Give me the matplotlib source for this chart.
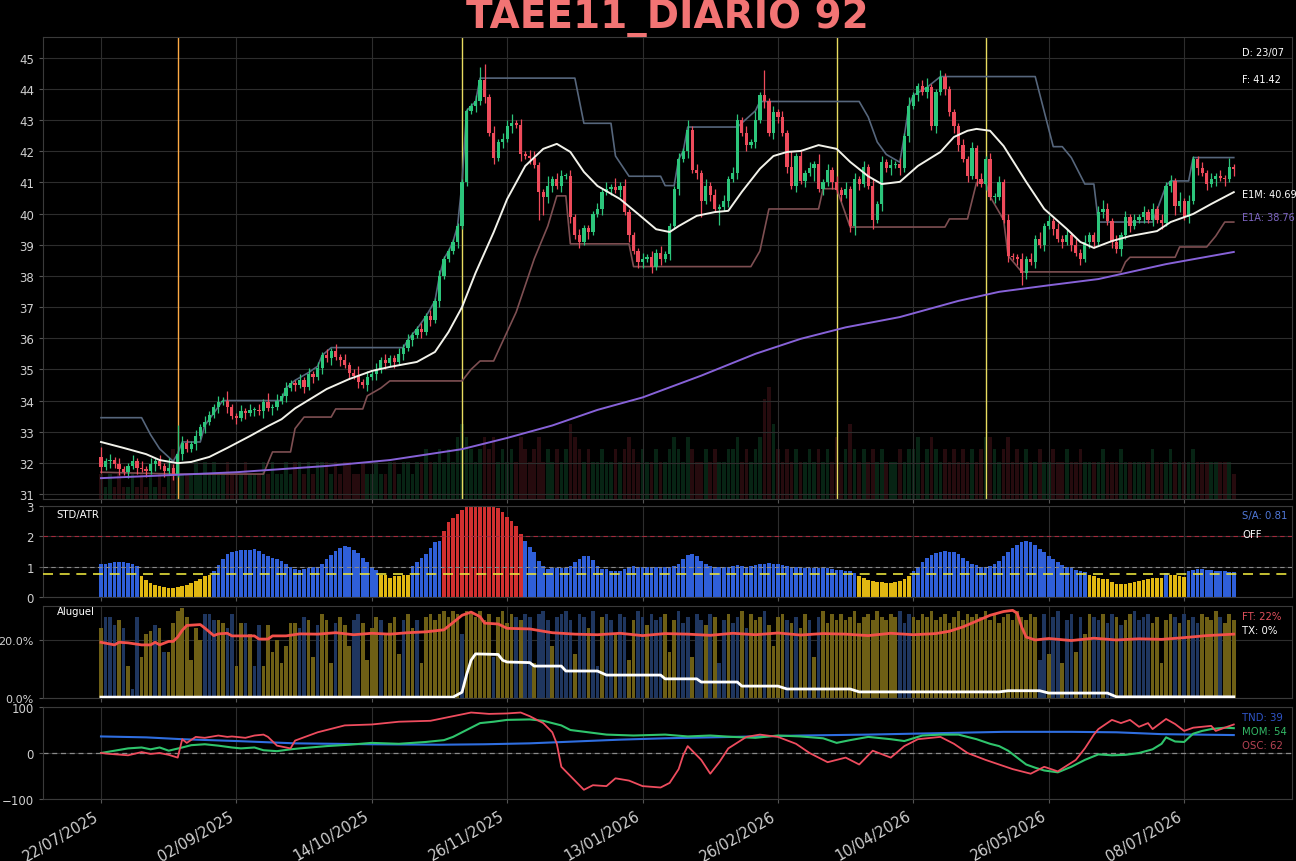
import matplotlib
matplotlib.use("Agg")
import matplotlib.pyplot as plt
import numpy as np
from matplotlib.ticker import PercentFormatter

title = "TAEE11_DIARIO 92"
date_labels = ["22/07/2025", "02/09/2025", "14/10/2025", "26/11/2025", "13/01/2026",
               "26/02/2026", "10/04/2026", "26/05/2026", "08/07/2026"]

# daily closes (bar 0 .. 251)
closes = [
    31.87, 32.05, 32.10, 31.95, 31.80, 31.70, 31.90, 32.05, 31.85, 31.80,
    31.75, 31.95, 32.05, 31.90, 31.75, 31.85, 31.65, 32.30, 32.65, 32.45,
    32.60, 32.85, 33.15, 33.30, 33.55, 33.80, 33.95, 34.00, 33.80, 33.50,
    33.45, 33.65, 33.60, 33.70, 33.70, 33.65, 33.95, 33.75, 33.80, 34.00,
    34.15, 34.40, 34.55, 34.50, 34.65, 34.45, 34.85, 34.75, 35.05, 35.45,
    35.35, 35.60, 35.40, 35.30, 35.15, 34.90, 34.80, 34.60, 34.50, 34.75,
    34.85, 35.00, 35.30, 35.20, 35.35, 35.25, 35.50, 35.70, 35.95, 36.10,
    36.30, 36.20, 36.70, 36.60, 37.20, 38.00, 38.55, 38.80, 39.10, 39.60,
    41.00, 43.30, 43.45, 43.60, 44.30, 43.75, 42.60, 41.80, 42.30, 42.40,
    42.80, 42.90, 42.85, 41.90, 41.85, 41.80, 41.55, 40.70, 40.55, 40.90,
    41.10, 40.90, 41.20, 41.20, 39.90, 39.30, 39.10, 39.55, 39.40, 40.00,
    40.15, 40.70, 40.80, 40.85, 40.75, 40.90, 40.05, 39.30, 38.80, 38.45,
    38.55, 38.60, 38.30, 38.75, 38.55, 38.70, 39.60, 40.80, 41.75, 42.00,
    42.70, 41.40, 41.30, 40.40, 40.90, 40.60, 40.15, 40.20, 40.40, 41.10,
    41.30, 43.00, 42.60, 42.20, 42.30, 43.00, 43.80, 43.60, 42.60, 43.25,
    43.10, 42.60, 41.50, 40.90, 41.85, 41.05, 41.30, 41.45, 41.60, 40.80,
    41.00, 41.40, 41.00, 40.75, 40.60, 40.80, 39.60, 41.10, 40.95, 41.50,
    40.90, 39.80, 40.30, 41.65, 41.45, 41.55, 41.60, 41.45, 42.50, 43.45,
    43.80, 44.10, 43.90, 44.05, 42.80, 43.90, 44.40, 44.00, 43.25, 42.80,
    42.20, 41.75, 41.20, 42.10, 41.10, 40.95, 41.75, 40.55, 40.55, 41.00,
    39.80, 38.65, 38.60, 38.55, 38.10, 38.55, 38.45, 39.20, 39.00, 39.60,
    39.75, 39.50, 39.20, 39.10, 39.30, 39.00, 38.75, 38.55, 39.10, 39.30,
    39.10, 40.05, 40.15, 39.75, 39.10, 38.85, 39.30, 39.90, 39.60, 39.80,
    39.90, 40.05, 39.80, 40.15, 39.80, 39.70, 40.90, 41.05, 40.25, 40.40,
    39.90, 40.40, 41.75, 41.45, 41.30, 40.95, 41.10, 41.20, 41.15, 41.10,
    41.50, 41.42,
]
first_open = 32.20
# wick lengths above / below the body, in tenths of a real
wick_up = ("3121211212" "1212131921" "1212112131" "1212121312" "1211212121"
           "2121211312" "1212112121" "1212121111" "1112451212" "2312122113"
           "1221212111" "2121312111" "2121211121" "3121212121" "2212131812"
           "1215121213" "1212121212" "1212121213" "1123112111" "1212121212"
           "1211212121" "2121212121" "1232121212" "1212121213" "1211212121" "31")
wick_dn = ("2121212121" "2121212121" "1212112121" "2121212121" "1212121212"
           "1212121212" "1212121212" "1212121112" "1112121212" "1212121962"
           "2121212121" "1212121212" "2121212121" "2125121512" "1212121212"
           "2121212141" "2121212321" "1312121212" "1212121212" "2121212121"
           "1212421212" "1212121212" "2121212121" "1212121232" "1212121212" "12")

volume = [
    2, 1, 2, 1, 2, 1, 1, 2, 1, 2, 1, 2, 1, 2, 1, 3, 4, 3, 2, 2,
    2, 3, 2, 3, 2, 3, 2, 2, 3, 2, 2, 2, 3, 2, 2, 2, 3, 2, 3, 2,
    2, 3, 2, 3, 3, 2, 3, 2, 3, 3, 3, 2, 3, 2, 3, 3, 2, 2, 3, 2,
    2, 3, 2, 2, 3, 3, 2, 3, 3, 2, 3, 3, 4, 3, 3, 4, 3, 4, 3, 5,
    6, 5, 4, 3, 4, 5, 4, 5, 3, 4, 3, 4, 3, 5, 4, 3, 4, 5, 3, 4,
    3, 4, 3, 4, 6, 5, 4, 3, 4, 3, 3, 4, 3, 3, 4, 3, 4, 5, 4, 3,
    4, 3, 3, 4, 3, 3, 4, 5, 4, 3, 5, 4, 3, 3, 4, 3, 4, 3, 3, 4,
    4, 5, 3, 4, 3, 4, 5, 8, 9, 6, 4, 3, 4, 3, 4, 3, 3, 4, 3, 4,
    3, 4, 3, 5, 3, 4, 6, 4, 3, 4, 3, 4, 3, 4, 3, 3, 3, 4, 3, 4,
    4, 5, 3, 4, 5, 4, 3, 4, 3, 4, 3, 4, 3, 4, 3, 4, 5, 5, 4, 3,
    4, 5, 3, 4, 3, 4, 3, 3, 4, 3, 3, 4, 3, 3, 4, 3, 3, 4, 3, 3,
    3, 3, 4, 3, 3, 3, 4, 3, 3, 3, 3, 3, 3, 4, 3, 3, 3, 4, 3, 3,
    3, 3, 4, 3, 3, 3, 3, 3, 3, 3, 3, 2,
]

# channel / average lines: (bar, price) points
upper_bar = [0, 9, 11, 13, 16, 17, 18, 22, 23, 25, 27, 40, 41, 43, 46, 48, 49, 51, 67, 68, 70, 72,
             74, 75, 76, 77, 78, 79, 80, 81, 82, 83, 84, 105, 107, 113, 114, 117, 124, 125, 127,
             128, 129, 130, 141, 145, 146, 168, 170, 172, 174, 177, 178, 179, 180, 183, 186, 207,
             211, 213, 215, 218, 220, 221, 233, 236, 237, 241, 242, 251]
upper_val = [33.45, 33.45, 32.9, 32.45, 32.05, 32.3, 32.67, 32.67, 33.2, 33.6, 34.0, 34.0, 34.4,
             34.65, 34.9, 35.1, 35.45, 35.7, 35.7, 35.95, 36.3, 36.7, 37.2, 38.0, 38.55, 38.8,
             39.1, 39.6, 41.0, 43.3, 43.45, 43.6, 44.35, 44.35, 42.9, 42.9, 41.85, 41.2, 41.2,
             40.9, 40.9, 41.75, 42.0, 42.78, 42.78, 43.3, 43.6, 43.6, 43.1, 42.3, 41.9, 41.65,
             42.5, 43.45, 43.8, 44.05, 44.4, 44.4, 42.15, 42.15, 41.8, 40.95, 40.95, 39.73,
             39.73, 40.9, 41.05, 41.05, 41.8, 41.8]
lower_bar = [0, 17, 36, 37, 38, 42, 43, 45, 51, 52, 58, 59, 62, 64, 80, 82, 84, 87, 92, 96, 99,
             101, 103, 104, 117, 118, 144, 146, 148, 159, 160, 163, 166, 187, 188, 192, 194, 196,
             197, 200, 201, 204, 226, 227, 228, 238, 239, 245, 247, 249, 251]
lower_val = [31.7, 31.64, 31.64, 32.0, 32.35, 32.35, 33.1, 33.47, 33.47, 33.73, 33.73, 34.15,
             34.4, 34.63, 34.63, 35.0, 35.27, 35.27, 36.84, 38.55, 39.6, 40.57, 40.57, 39.03,
             39.03, 38.3, 38.3, 38.8, 40.15, 40.15, 40.8, 40.8, 39.57, 39.57, 39.83, 39.83, 41.0,
             41.0, 40.55, 39.8, 38.65, 38.13, 38.13, 38.45, 38.6, 38.6, 38.93, 38.93, 39.28,
             39.73, 39.73]
e1m_bar = [0, 5, 10, 13, 17, 20, 24, 28, 33, 37, 40, 43, 50, 55, 60, 64, 70, 74, 77, 80, 83, 87,
           90, 94, 98, 101, 104, 107, 110, 115, 119, 123, 126, 128, 132, 136, 139, 142, 146, 149,
           152, 155, 159, 163, 166, 170, 173, 177, 181, 186, 189, 192, 194, 197, 200, 205, 209,
           214, 217, 220, 224, 228, 234, 237, 242, 246, 251]
e1m_val = [32.67, 32.48, 32.28, 32.09, 31.99, 32.03, 32.19, 32.48, 32.86, 33.18, 33.4, 33.75,
           34.37, 34.69, 34.95, 35.08, 35.24, 35.56, 36.2, 37.0, 38.1, 39.4, 40.47, 41.53, 42.08,
           42.24, 41.98, 41.34, 40.89, 40.47, 39.99, 39.5, 39.41, 39.6, 39.93, 40.05, 40.09,
           40.7, 41.44, 41.85, 41.98, 42.01, 42.2, 42.08, 41.66, 41.2, 40.95, 41.02, 41.53,
           41.98, 42.46, 42.66, 42.72, 42.66, 42.17, 41.02, 40.15, 39.51, 39.09, 38.9, 39.12,
           39.28, 39.44, 39.73, 39.99, 40.31, 40.69]
e1a_bar = [0, 30, 50, 64, 80, 90, 100, 110, 120, 133, 145, 155, 165, 177, 190, 199, 210, 221,
           236, 251]
e1a_val = [31.51, 31.7, 31.9, 32.09, 32.44, 32.8, 33.2, 33.7, 34.1, 34.8, 35.5, 35.98, 36.35,
           36.68, 37.2, 37.49, 37.7, 37.9, 38.38, 38.77]
signal_bars = [17, 80, 163, 196]
signal_colors = ["#ffab45", "#e8dc60", "#e8dc60", "#e8dc60"]

std_atr = [
    1.08, 1.10, 1.12, 1.14, 1.16, 1.15, 1.12, 1.08, 1.02,
    0.69, 0.55, 0.45, 0.38, 0.35, 0.33, 0.30, 0.31, 0.33, 0.35, 0.40, 0.46, 0.52, 0.60, 0.68, 0.74,
    0.87, 1.04, 1.26, 1.43, 1.50, 1.53, 1.54, 1.55, 1.56, 1.58, 1.52, 1.43, 1.35, 1.30, 1.25,
    1.18, 1.08, 0.98, 0.92, 0.90,
    0.92, 0.95, 0.98, 1.00, 1.10, 1.25, 1.40, 1.52, 1.62, 1.68, 1.65, 1.55, 1.45, 1.30, 1.15,
    1.00, 0.88,
    0.73, 0.72, 0.62, 0.68, 0.70, 0.72, 0.73,
    1.03, 1.14, 1.30, 1.42, 1.60, 1.80, 1.86,
    2.19, 2.46, 2.60, 2.74, 2.88, 3.0, 3.0, 3.0, 3.0, 3.0, 3.0, 3.0, 2.95, 2.80, 2.64, 2.50,
    2.33, 2.09,
    1.86, 1.64, 1.48, 1.20, 1.03, 0.92, 0.97, 0.97, 0.95, 0.97,
    1.03, 1.14, 1.25, 1.34, 1.34, 1.22, 1.03, 0.92, 0.92, 0.87,
    0.87, 0.87, 0.92, 0.97, 1.03, 1.00, 1.00, 1.00, 1.00, 0.98,
    1.00, 1.00, 1.00,
    1.02, 1.10, 1.25, 1.38, 1.42, 1.35, 1.20, 1.08, 1.02, 1.00, 1.00, 0.98, 1.00, 1.02, 1.04,
    1.02, 1.00, 1.02, 1.05, 1.08,
    1.10, 1.12, 1.10, 1.08, 1.05, 1.02, 1.00, 0.98, 0.98, 0.97, 0.97, 0.96, 0.95, 0.95, 0.94,
    0.92, 0.90, 0.88, 0.87, 0.85, 0.80,
    0.70, 0.62, 0.56, 0.52, 0.50, 0.48, 0.46, 0.46, 0.48, 0.52, 0.58, 0.68,
    0.85, 1.00, 1.15, 1.28, 1.38, 1.45, 1.50, 1.52, 1.50, 1.48, 1.42,
    1.30, 1.18, 1.10, 1.04, 1.00, 1.00, 1.02,
    1.08, 1.20, 1.35, 1.50, 1.62, 1.72, 1.80, 1.85, 1.80,
    1.70, 1.58, 1.47, 1.36, 1.26, 1.16, 1.07, 1.00, 0.94, 0.90, 0.86, 0.82,
    0.72, 0.68, 0.62, 0.60, 0.58, 0.50, 0.44, 0.42, 0.44, 0.46, 0.50, 0.54, 0.57, 0.60, 0.62,
    0.62, 0.63,
    0.78, 0.74, 0.72, 0.70, 0.66,
    0.85, 0.90, 0.92, 0.91, 0.90, 0.88, 0.87, 0.86, 0.85, 0.83, 0.81,
]

# rental (aluguel) bars in %, side: o = tomador (olive), n = doador (navy)
rent_pct = [
    24, 28, 28, 25, 27, 24, 11, 3, 28, 14, 22, 23, 25, 24, 16, 16, 26, 30, 31, 28,
    13, 24, 20, 29, 29, 27, 27, 26, 24, 29, 11, 26, 26, 22, 11, 25, 11, 25, 16, 20,
    12, 18, 26, 26,
    24, 28, 27, 14, 25, 29, 27, 12, 26, 28, 25, 18, 27, 29, 26, 13, 24, 28, 27, 22,
    26, 28, 15, 27, 29, 24, 27, 12, 28, 29, 27, 29, 30, 28, 30, 29, 22, 30, 29, 28,
    30, 27, 29, 14, 28, 30, 26, 29, 28, 27, 29, 28, 12, 29, 30, 27, 18, 28, 29, 30,
    27, 15, 29, 28, 24, 30, 11, 28, 29, 27, 22, 29, 28, 13, 27, 30, 28, 25, 29, 27,
    28, 29, 16, 27, 30, 26, 28, 14, 29, 27, 25, 29, 28, 12, 27, 29, 26, 28, 30, 24,
    29, 27, 28, 30, 25, 18, 28, 29, 27, 26, 28, 24, 29, 27, 14, 28, 30, 26, 29, 27,
    29, 27, 28, 30, 26, 28, 29, 27, 30, 28, 27, 29, 28, 30, 26, 29, 28, 27, 29, 28,
    30, 27, 28, 29, 26, 28, 30, 27, 29, 28, 29, 28, 30, 27, 29, 26, 28, 29, 27, 30,
    28, 27, 29, 28, 13, 29, 15, 28, 30, 12, 27, 29, 16, 28, 22, 29, 28, 27, 29, 26,
    29, 28, 25, 27, 29, 30, 27, 28, 29, 26, 28, 12, 27, 29, 28, 26, 29, 27, 28, 26,
    29, 28, 27, 30, 28, 26, 29, 27,
]
rent_side = ("onnnononno" "oononooooo" "ooonnnoonn" "oononnoooo" "oooo"
             "nnoonooono" "oonnoooono" "ooonoonooo" "oooooonooo" "ooonoooono"
             "nnonnnonnn" "nonnonnonn" "onnoonnonn" "nooonnnonn" "ononnonnon"
             "ooonoooono" "noononoooo" "oooooooooo" "ooonnnoooo" "oooooooooo"
             "oooooooooo" "oooonnonno" "nnonoonnon" "nonoonnnno" "oooonononn" "oooonooo")
ft_bar = [0, 3, 4, 6, 9, 11, 12, 13, 15, 16, 17, 18, 19, 22, 23, 25, 26, 28, 29, 34, 35, 37, 38,
          41, 44, 48, 52, 56, 60, 64, 68, 72, 76, 78, 80, 82, 84, 85, 88, 90, 95, 98, 100, 105,
          110, 115, 120, 125, 130, 135, 140, 145, 150, 155, 160, 165, 170, 175, 180, 185, 188,
          191, 194, 197, 200, 202, 203, 204, 205, 207, 210, 215, 220, 225, 230, 235, 240, 245, 251]
ft_pct = [19.2, 18.3, 19.2, 19.0, 18.3, 18.3, 19.2, 18.3, 19.5, 19.5, 21.0, 23.3, 25.0, 25.3,
          24.1, 21.5, 22.1, 22.3, 21.4, 21.4, 20.3, 20.3, 21.4, 21.4, 22.1, 22.0, 22.5, 21.8,
          22.3, 22.0, 22.5, 22.8, 23.5, 26.0, 28.5, 29.6, 28.0, 25.8, 25.5, 24.0, 23.8, 23.0,
          22.5, 22.0, 21.8, 22.3, 21.5, 22.2, 22.0, 21.6, 22.3, 21.8, 22.4, 21.7, 22.2, 22.0,
          21.5, 22.3, 21.8, 22.2, 23.0, 24.5, 26.5, 28.5, 29.8, 30.2, 29.2, 24.5, 21.0, 20.0,
          20.5, 19.8, 20.6, 20.0, 20.4, 20.2, 20.8, 21.5, 22.0]
tx_bar = [0, 78, 80, 81, 82, 83, 88, 89, 90, 95, 96, 102, 103, 110, 112, 124, 125, 132, 133, 141,
          142, 150, 152, 166, 168, 199, 201, 208, 210, 223, 225, 251]
tx_pct = [0.3, 0.3, 2.0, 8.0, 13.0, 15.2, 15.0, 13.0, 12.4, 12.2, 11.0, 11.0, 9.3, 9.3, 7.9,
          7.9, 6.6, 6.6, 5.5, 5.5, 4.1, 4.1, 3.1, 3.1, 2.1, 2.1, 2.5, 2.5, 1.7, 1.7, 0.4, 0.4]

tnd_bar = [0, 10, 18, 30, 43, 60, 75, 85, 95, 105, 115, 125, 140, 155, 170, 185, 200, 215, 225,
           235, 251]
tnd_val = [36, 34, 30, 26, 21, 19, 18, 19, 21, 25, 29, 32, 35, 38, 40, 43, 46, 46, 45, 41, 39]
mom_bar = [0, 3, 6, 9, 11, 13, 15, 18, 20, 23, 26, 29, 31, 34, 36, 39, 42, 44, 50, 55, 60, 66,
           72, 76, 78, 80, 82, 84, 87, 90, 95, 98, 100, 102, 104, 108, 112, 118, 125, 130, 135,
           140, 145, 150, 155, 160, 163, 166, 170, 175, 178, 182, 186, 190, 194, 197, 199, 201,
           203, 205, 207, 209, 212, 215, 218, 221, 224, 227, 230, 233, 235, 236, 238, 240, 242,
           244, 246, 249, 251]
mom_val = [0, 5, 10, 12, 8, 12, 5, 12, 17, 19, 16, 12, 10, 12, 6, 4, 8, 10, 15, 18, 22, 20, 24,
           28, 35, 45, 55, 65, 68, 72, 73, 70, 65, 60, 50, 45, 40, 38, 40, 36, 38, 35, 33, 38, 36,
           32, 22, 28, 35, 30, 26, 38, 40, 40, 30, 20, 15, 5, -10, -25, -32, -38, -42, -30, -15,
           -3, -5, -4, 0, 8, 20, 34, 25, 24, 42, 48, 52, 55, 54]
osc_bar = [0, 2, 6, 9, 11, 13, 15, 17, 18, 19, 21, 23, 26, 28, 29, 32, 34, 36, 37, 39, 42, 43,
           48, 54, 60, 66, 73, 78, 82, 86, 90, 93, 95, 98, 100, 101, 102, 105, 107, 109, 112, 114,
           117, 120, 124, 126, 128, 129, 130, 133, 135, 137, 139, 143, 146, 150, 154, 157, 161,
           165, 168, 171, 175, 178, 181, 186, 189, 192, 196, 199, 202, 206, 209, 212, 216, 218,
           220, 221, 224, 226, 228, 230, 232, 233, 236, 238, 240, 242, 246, 247, 249, 251]
osc_val = [0, -2, -5, 2, -2, 0, -4, -10, 30, 22, 35, 33, 38, 35, 36, 33, 38, 40, 35, 16, 10, 27,
           45, 60, 62, 68, 70, 80, 88, 85, 86, 88, 80, 65, 45, 20, -30, -60, -80, -70, -72, -55,
           -60, -72, -75, -65, -35, -5, 15, -15, -45, -20, 10, 35, 40, 35, 20, 0, -20, -10, -25,
           5, -10, 15, 30, 35, 20, 0, -15, -25, -35, -45, -30, -40, -15, 10, 40, 52, 72, 65, 72,
           57, 65, 52, 74, 63, 48, 55, 59, 48, 55, 62]

# ---------------------------------------------------------------- figure
BG = "black"
GREEN = "#2cc57b"
RED = "#ee4b5b"

n = len(closes)
assert len(wick_up) == n and len(wick_dn) == n and len(volume) == n
assert len(std_atr) == n and len(rent_pct) == n and len(rent_side) == n

x = np.arange(n)
c = np.array(closes)
o = np.r_[first_open, c[:-1]]
hi = np.maximum(o, c) + np.array([int(ch) for ch in wick_up]) / 10
lo = np.minimum(o, c) - np.array([int(ch) for ch in wick_dn]) / 10
candle_col = np.where(c >= o, GREEN, RED)

fig = plt.figure(figsize=(12.96, 8.62), dpi=100, facecolor=BG)
H = 862.0


def panel(top, bottom):
    return fig.add_axes([43 / 1296, 1 - bottom / H, 1249 / 1296, (bottom - top) / H])


ax = panel(38, 500)
ax2 = panel(507, 598)
ax3 = panel(607, 699)
ax4 = panel(708, 800)
tick_bars = list(range(0, 30 * len(date_labels), 30))

for a in (ax, ax2, ax3, ax4):
    a.set_facecolor(BG)
    a.set_xlim(-12.85, 263.9)
    for s in a.spines.values():
        s.set_color("#3a3a3a")
    a.tick_params(colors="#555555", labelcolor="#d0d0d0", labelsize=8.5, length=3)
    a.set_xticks(tick_bars)
    a.grid(True, color="#2d2d2d", lw=0.8)
    a.set_axisbelow(True)
    if a is not ax4:
        a.tick_params(labelbottom=False)

fig.text(0.515, 0.979, title, color="#f27474", fontsize=28, fontweight="bold",
         ha="center", va="center")

# --- main price panel
axv = ax.twinx()
axv.set_ylim(0, 37)
axv.bar(x, volume, width=0.8, color=np.where(c >= o, "#1f9a55", "#a0303c"), alpha=0.24)
axv.axis("off")
ax.set_zorder(axv.get_zorder() + 1)
ax.patch.set_visible(False)

for b, colr in zip(signal_bars, signal_colors):
    ax.axvline(b, color=colr, lw=1.0, zorder=1)
ax.plot(upper_bar, upper_val, color="#56667c", lw=1.2, zorder=2)
ax.plot(lower_bar, lower_val, color="#7e4f52", lw=1.2, zorder=2)
ax.vlines(x, lo, hi, colors=candle_col, lw=0.9, zorder=3)
ax.bar(x, np.maximum(np.abs(c - o), 0.03), bottom=np.minimum(o, c), width=0.72,
       color=candle_col, zorder=4)
ax.plot(e1m_bar, e1m_val, color="#f2f2ea", lw=1.4, zorder=5)
ax.plot(e1a_bar, e1a_val, color="#8762d8", lw=1.4, zorder=5)
ax.set_ylim(30.84, 45.67)
ax.set_yticks(range(31, 46))

lbl = dict(transform=ax.transAxes, fontsize=7.0, ha="left", va="center")
ax.text(0.96, 0.9675, "D: 23/07", color="white", **lbl)
ax.text(0.96, 0.909, "F: %.2f" % closes[-1], color="white", **lbl)
ax.text(0.96, 0.660, "E1M: %.2f" % e1m_val[-1], color="white", **lbl)
ax.text(0.96, 0.610, "E1A: %.2f" % 38.76, color="#7e66c4", **lbl)

# --- STD/ATR
sa = np.array(std_atr)
sa_col = np.where(sa > 2, "#d23030", np.where(sa < 0.75, "#e2b812", "#2f5fd8"))
ax2.bar(x, np.minimum(sa, 3), width=0.8, color=sa_col, zorder=2)
ax2.axhline(2, color="#a32a3c", lw=0.8, ls=(0, (4, 3)), zorder=3)
ax2.axhline(1, color="#8a8a8a", lw=0.8, ls=(0, (4, 3)), zorder=3)
ax2.axhline(0.75, color="#e6e03c", lw=1.2, ls=(0, (6, 4)), zorder=3)
ax2.set_ylim(0, 3)
ax2.set_yticks([0, 1, 2, 3])
l2 = dict(transform=ax2.transAxes, fontsize=7.3, va="center")
ax2.text(0.011, 0.91, "STD/ATR", color="white", ha="left", **l2)
ax2.text(0.96, 0.90, "S/A: %.2f" % std_atr[-1], color="#5078d8", ha="left", **l2)
ax2.text(0.96, 0.69, "OFF", color="white", ha="left", **l2)

# --- Aluguel
rent_col = ["#6e5f15" if s == "o" else "#1f365f" for s in rent_side]
ax3.bar(x, np.array(rent_pct) / 100, width=0.8, color=rent_col, zorder=2)
ax3.plot(ft_bar, np.array(ft_pct) / 100, color="#f2504a", lw=2.0, zorder=3)
ax3.plot(tx_bar, np.array(tx_pct) / 100, color="white", lw=2.0, zorder=3)
ax3.set_ylim(0, 0.317)
ax3.set_yticks([0, 0.2])
ax3.yaxis.set_major_formatter(PercentFormatter(xmax=1, decimals=1))
ax3.tick_params(axis="y", labelsize=8)
l3 = dict(transform=ax3.transAxes, fontsize=7.3, va="center", ha="left")
ax3.text(0.011, 0.946, "Aluguel", color="white", **l3)
ax3.text(0.96, 0.89, "FT: %d%%" % round(ft_pct[-1]), color="#e0505c", **l3)
ax3.text(0.96, 0.74, "TX: %d%%" % round(tx_pct[-1]), color="white", **l3)

# --- TND / MOM / OSC
ax4.axhline(0, color="#8a8a8a", lw=0.9, ls=(0, (4, 3)), zorder=2)
ax4.plot(tnd_bar, tnd_val, color="#2f6ee0", lw=1.5, zorder=3)
ax4.plot(mom_bar, mom_val, color="#2fc46c", lw=1.5, zorder=3)
ax4.plot(osc_bar, osc_val, color="#ee4c5e", lw=1.3, zorder=4)
ax4.set_ylim(-100, 100)
ax4.set_yticks([-100, 0, 100])
l4 = dict(transform=ax4.transAxes, fontsize=7.3, va="center", ha="left")
ax4.text(0.96, 0.891, "TND: %d" % tnd_val[-1], color="#2f55c8", **l4)
ax4.text(0.96, 0.739, "MOM: %d" % mom_val[-1], color="#33b866", **l4)
ax4.text(0.96, 0.587, "OSC: %d" % osc_val[-1], color="#b84454", **l4)

ax4.set_xticklabels(date_labels, rotation=30, ha="right", fontsize=10.5)

fig.savefig("out.png", dpi=100, facecolor=BG)
